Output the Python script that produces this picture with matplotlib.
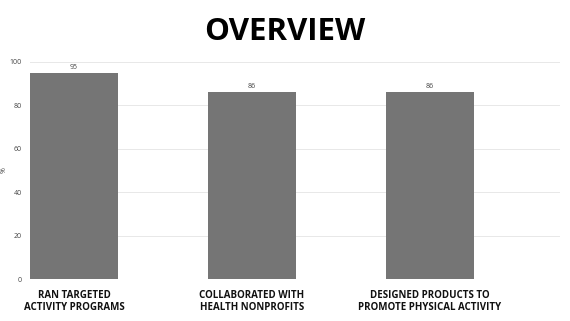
import matplotlib
matplotlib.use('Agg')
import matplotlib.pyplot as plt

categories = ['RAN TARGETED\nACTIVITY PROGRAMS',
              'COLLABORATED WITH\nHEALTH NONPROFITS',
              'DESIGNED PRODUCTS TO\nPROMOTE PHYSICAL ACTIVITY']
values = [95, 86, 86]
yticks = [0, 20, 40, 60, 80, 100]

plt.rcParams['font.family'] = ['Open Sans', 'DejaVu Sans']

fig = plt.figure(figsize=(5.7, 3.21), dpi=100)
ax = fig.add_axes([30 / 570, 1 - 279 / 321, 530 / 570, 217 / 321])

bar_w = 88 / 178
pos = list(range(len(values)))
bars = ax.bar(pos, values, width=bar_w, align='edge', color='#757575', zorder=3)

for b, v in zip(bars, values):
    ax.text(b.get_x() + b.get_width() / 2, v + 1, str(v), ha='center', va='bottom',
            fontsize=5, color='#444444')

ax.set_xlim(0, 530 / 178)
ax.set_ylim(0, 100)
ax.set_yticks(yticks)
ax.set_yticklabels([str(t) for t in yticks], fontsize=5, color='#444444')
ax.tick_params(axis='y', length=0, pad=6)
ax.set_xticks([p + bar_w / 2 for p in pos])
ax.set_xticklabels(categories, fontsize=7, fontweight='bold', color='#111111',
                   linespacing=1.05)
ax.tick_params(axis='x', length=0, pad=8)
ax.grid(axis='y', color='#e8e8e8', linewidth=0.7, zorder=0)
for s in ax.spines.values():
    s.set_visible(False)
ax.set_ylabel('%', fontsize=5, color='#444444')
ax.yaxis.set_label_coords(-22 / 530, 0.5)

fig.text(285 / 570, 1 - 32 / 321, 'OVERVIEW', ha='center', va='center',
         fontsize=22.5, fontweight='bold', color='#000000')

fig.savefig('out.png', dpi=100)
